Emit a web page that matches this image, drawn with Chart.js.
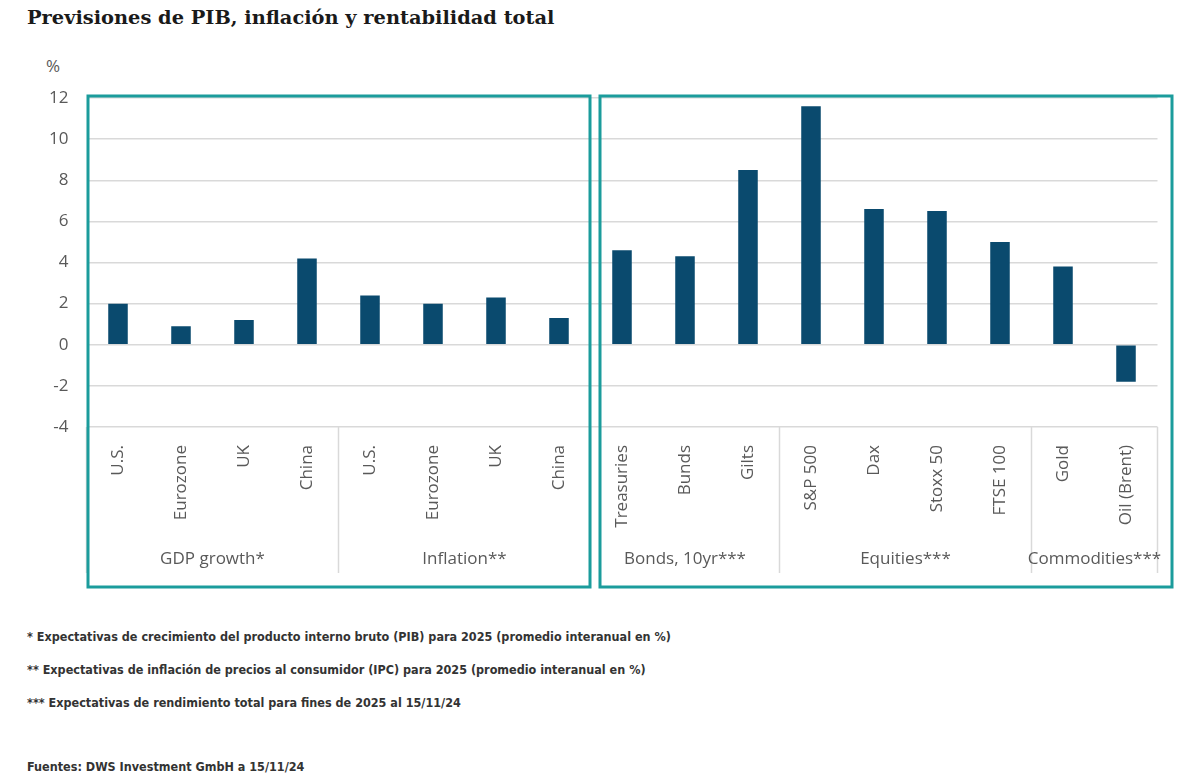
<!DOCTYPE html>
<html>
<head>
<meta charset="utf-8">
<script src="https://cdn.jsdelivr.net/npm/chart.js@4"></script>
<style>
body{margin:0;background:#fff;width:1198px;height:774px;position:relative;overflow:hidden}
#title{position:absolute;left:27px;top:6px;font-family:"DejaVu Serif";font-weight:bold;font-size:19.4px;color:#1a1a1a;white-space:nowrap}
#unit{position:absolute;left:46px;top:54px;font-family:"Open Sans";font-size:17px;color:#595959}
.note{position:absolute;left:27px;font-family:"DejaVu Sans Condensed","DejaVu Sans";font-stretch:condensed;font-weight:bold;font-size:12.5px;color:#333;white-space:nowrap}
canvas{position:absolute;left:0;top:0}
</style>
</head>
<body>
<div id="title">Previsiones de PIB, inflación y rentabilidad total</div>
<div id="unit">%</div>
<canvas id="chart" width="1198" height="600"></canvas>
<div class="note" style="top:629px">* Expectativas de crecimiento del producto interno bruto (PIB) para 2025 (promedio interanual en %)</div>
<div class="note" style="top:662px">** Expectativas de inflación de precios al consumidor (IPC) para 2025 (promedio interanual en %)</div>
<div class="note" style="top:695px">*** Expectativas de rendimiento total para fines de 2025 al 15/11/24</div>
<div class="note" style="top:759px">Fuentes: DWS Investment GmbH a 15/11/24</div>
<script>
// forecast values, %
let categories = ["U.S.","Eurozone","UK","China","U.S.","Eurozone","UK","China",
  "Treasuries","Bunds","Gilts","S&P 500","Dax","Stoxx 50","FTSE 100","Gold","Oil (Brent)"]
let values = [2.0,0.9,1.2,4.2, 2.4,2.0,2.3,1.3, 4.6,4.3,8.5, 11.6,6.6,6.5,5.0, 3.8,-1.8]
let groupNames = ["GDP growth*","Inflation**","Bonds, 10yr***","Equities***","Commodities***"]
let groupSizes = [4,4,3,4,2]
let yMin = -4, yMax = 12, yStep = 2

let teal = "#1b9c9c"
let lineGray = "#d9d9d9"
let textGray = "#595959"

// table under the axis, group labels and the two teal frames
let tablePlugin = {
  id:"table",
  afterDraw(chart){
    let ctx = chart.ctx
    let x = chart.scales.x
    let area = chart.chartArea
    let half = (x.getPixelForValue(1)-x.getPixelForValue(0))/2
    let tableBottom = 573

    // boundaries between groups
    let bounds = [x.getPixelForValue(0)-half]
    let idx = 0
    groupSizes.forEach(n=>{ idx += n; bounds.push(x.getPixelForValue(idx-1)+half) })

    ctx.save()
    ctx.strokeStyle = lineGray
    ctx.lineWidth = 1.5
    bounds.forEach(b=>{
      ctx.beginPath()
      ctx.moveTo(b, area.bottom)
      ctx.lineTo(b, tableBottom)
      ctx.stroke()
    })

    ctx.fillStyle = textGray
    ctx.font = "17px 'Open Sans'"
    ctx.textAlign = "center"
    ctx.textBaseline = "middle"
    idx = 0
    groupNames.forEach((g,i)=>{
      let a = x.getPixelForValue(idx)
      let b = x.getPixelForValue(idx+groupSizes[i]-1)
      ctx.fillText(g, (a+b)/2, 559)
      idx += groupSizes[i]
    })

    // frames: GDP + inflation, then the asset returns
    let split = bounds[2]
    ctx.strokeStyle = teal
    ctx.lineWidth = 3
    ctx.strokeRect(bounds[0]+1.5, area.top-2, split-bounds[0]-2, 587-area.top+2)
    ctx.strokeRect(split+9.5, area.top-2, 1172-split-9.5, 587-area.top+2)
    ctx.restore()
  }
}

new Chart(document.getElementById("chart"),{
  type:"bar",
  data:{
    labels:categories,
    datasets:[{
      data:values,
      backgroundColor:"#0a4a6e",
      barPercentage:0.31,
      categoryPercentage:1
    }]
  },
  options:{
    responsive:false,
    animation:false,
    devicePixelRatio:1,
    layout:{padding:{top:98,right:40.5,left:0,bottom:0}},
    plugins:{legend:{display:false},tooltip:{enabled:false}},
    scales:{
      x:{
        afterFit(s){ s.height = 173 },
        grid:{display:false},
        border:{display:false},
        ticks:{
          color:textGray,
          font:{family:"Open Sans",size:17},
          minRotation:90,
          maxRotation:90,
          padding:10,
          autoSkip:false
        }
      },
      y:{
        min:yMin,
        max:yMax,
        afterFit(s){ s.width = 86.5 },
        border:{display:false},
        grid:{color:lineGray,lineWidth:1.5,drawTicks:false},
        ticks:{
          stepSize:yStep,
          color:textGray,
          font:{family:"Open Sans",size:17},
          padding:18
        }
      }
    }
  },
  plugins:[tablePlugin]
})
</script>
</body>
</html>
